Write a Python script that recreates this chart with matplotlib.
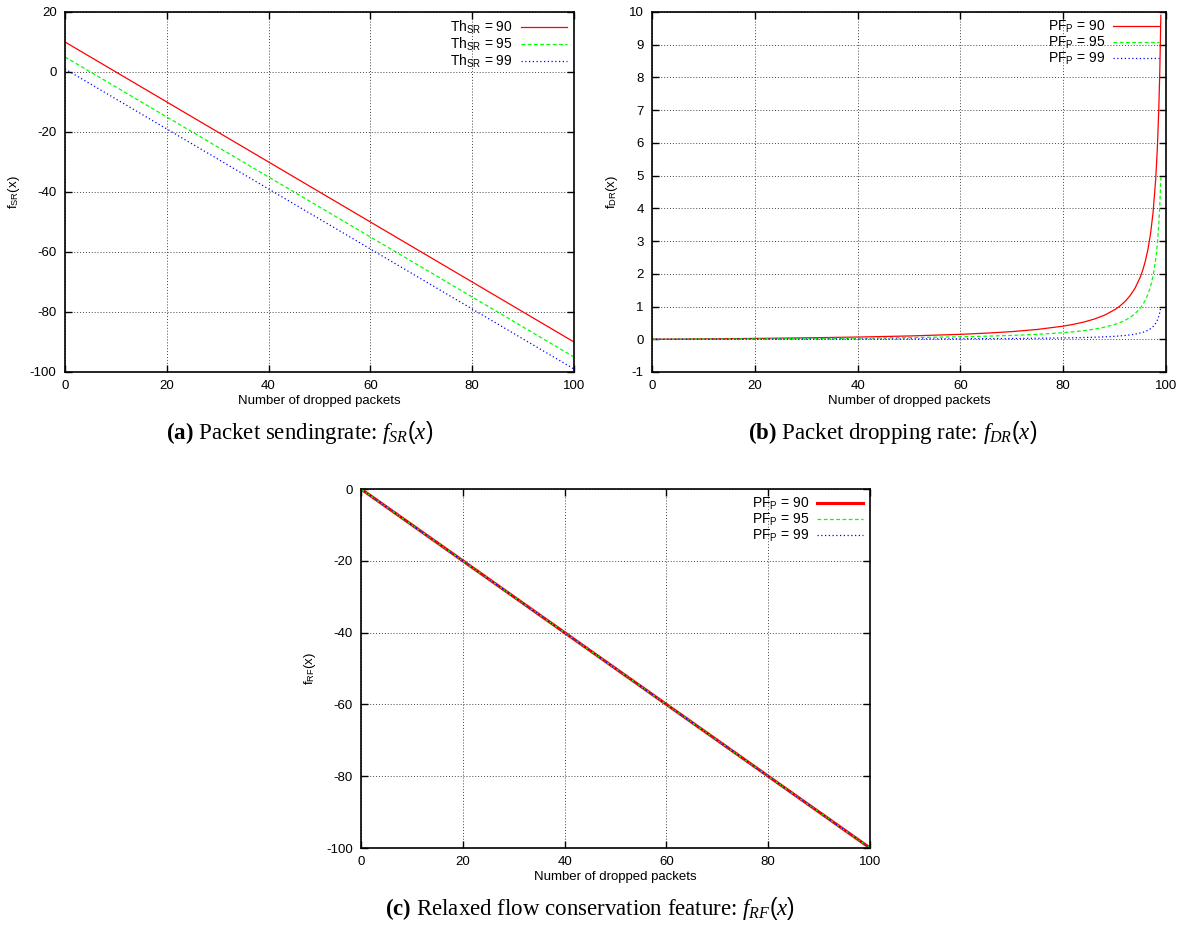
"""
Three gnuplot-style panels: feature functions vs number of dropped packets.
"""

import matplotlib
matplotlib.use("Agg")
import matplotlib.pyplot as plt
from matplotlib.ticker import MultipleLocator

plt.rcParams["font.family"] = ["Liberation Sans", "DejaVu Sans"]
plt.rcParams["axes.unicode_minus"] = False
plt.rcParams["mathtext.fontset"] = "custom"
plt.rcParams["mathtext.rm"] = "Liberation Sans"
plt.rcParams["mathtext.it"] = "Liberation Serif:italic"
plt.rcParams["mathtext.bf"] = "Liberation Serif:bold"

# ---- data ----
thresholds = [90, 95, 99]

# (a) packet sending rate, straight lines
sr_x = [0, 20, 40, 60, 80, 100]
sr_90 = [10, -10, -30, -50, -70, -90]
sr_95 = [5, -15, -35, -55, -75, -95]
sr_99 = [1, -19, -39, -59, -79, -99]

# (b) packet dropping rate
dr_x = [0, 10, 20, 30, 40, 50, 60, 65, 70, 75, 80, 82, 84, 86, 88, 90, 91, 92, 93,
        94, 95, 95.5, 96, 96.5, 97, 97.5, 98, 98.3, 98.6, 98.8, 99]
dr_90 = [0, 0.011, 0.025, 0.043, 0.067, 0.1, 0.15, 0.186, 0.233, 0.3, 0.4, 0.456,
         0.525, 0.614, 0.733, 0.9, 1.011, 1.15, 1.329, 1.567, 1.9, 2.122, 2.4,
         2.757, 3.233, 3.9, 4.9, 5.782, 7.043, 8.233, 9.9]
dr_95 = [0, 0.0055, 0.0125, 0.021, 0.033, 0.05, 0.075, 0.093, 0.117, 0.15, 0.2,
         0.228, 0.262, 0.307, 0.367, 0.45, 0.506, 0.575, 0.664, 0.783, 0.95, 1.061,
         1.2, 1.379, 1.617, 1.95, 2.45, 2.891, 3.521, 4.117, 4.95]
dr_99 = [0, 0.0011, 0.0025, 0.0043, 0.0067, 0.01, 0.015, 0.0186, 0.0233, 0.03, 0.04,
         0.0456, 0.0525, 0.0614, 0.0733, 0.09, 0.101, 0.115, 0.133, 0.157, 0.19,
         0.212, 0.24, 0.276, 0.323, 0.39, 0.49, 0.578, 0.704, 0.823, 0.99]

# (c) relaxed flow conservation, all three overlap
rf_x = [0, 20, 40, 60, 80, 100]
rf_90 = [0, -20, -40, -60, -80, -100]
rf_95 = [0, -20, -40, -60, -80, -100]
rf_99 = [0, -20, -40, -60, -80, -100]

RED = "#ff0000"
GREEN = "#00ff00"
BLUE = "#0000ff"
STYLES = [
    dict(color=RED, ls="-"),
    dict(color=GREEN, ls=(0, (3, 2))),
    dict(color=BLUE, ls=(0, (1, 2))),
]


def style_axes(ax, ylim, ystep, ylabel):
    ax.set_xlim(0, 100)
    ax.set_ylim(*ylim)
    ax.xaxis.set_major_locator(MultipleLocator(20))
    ax.yaxis.set_major_locator(MultipleLocator(ystep))
    ax.tick_params(direction="in", top=True, right=True, length=5, width=1,
                   labelsize=9.5, pad=6)
    ax.grid(True, color="#444444", ls=(0, (1, 2)), lw=0.7)
    for sp in ax.spines.values():
        sp.set_linewidth(1.2)
    ax.set_xlabel("Number of dropped packets", fontsize=9.5, labelpad=2)
    ax.set_ylabel(ylabel, fontsize=9.5, labelpad=6)


def add_legend(ax):
    leg = ax.legend(loc="upper right", frameon=False, markerfirst=False,
                    fontsize=10, handlelength=3.3, labelspacing=0.0,
                    handletextpad=0.6, borderaxespad=0.1)
    for t in leg.get_texts():
        t.set_ha("right")


fig = plt.figure(figsize=(11.81, 9.26), dpi=100)

# panel (a)
ax_a = fig.add_axes([0.0550, 0.5983, 0.431, 0.3888])
for th, ys, st in zip(thresholds, [sr_90, sr_95, sr_99], STYLES):
    ax_a.plot(sr_x, ys, lw=0.9, label=r"Th$_{\mathrm{SR}}$ = %d" % th, **st)
style_axes(ax_a, (-100, 20), 20, r"f$_{\mathrm{SR}}$(x)")
add_legend(ax_a)

# panel (b)
ax_b = fig.add_axes([0.5521, 0.5983, 0.4352, 0.3888])
for th, ys, st in zip(thresholds, [dr_90, dr_95, dr_99], STYLES):
    ax_b.plot(dr_x, ys, lw=0.9, label=r"PF$_{\mathrm{P}}$ = %d" % th, **st)
style_axes(ax_b, (-1, 10), 1, r"f$_{\mathrm{DR}}$(x)")
add_legend(ax_b)

# panel (c)
ax_c = fig.add_axes([0.3057, 0.0842, 0.431, 0.3877])
widths = [2.2, 0.9, 0.9]
for th, ys, st, lw in zip(thresholds, [rf_90, rf_95, rf_99], STYLES, widths):
    ax_c.plot(rf_x, ys, lw=lw, label=r"PF$_{\mathrm{P}}$ = %d" % th, **st)
style_axes(ax_c, (-100, 0), 20, r"f$_{\mathrm{RF}}$(x)")
add_legend(ax_c)

# captions
cap_kw = dict(ha="center", va="center", fontsize=16.5, family="Liberation Serif")
fig.text(300 / 1181, 1 - 433 / 926,
         r"$\mathbf{(a)}$ Packet sendingrate: $f_{SR}(x)$", **cap_kw)
fig.text(893 / 1181, 1 - 433 / 926,
         r"$\mathbf{(b)}$ Packet dropping rate: $f_{DR}(x)$", **cap_kw)
fig.text(590 / 1181, 1 - 908 / 926,
         r"$\mathbf{(c)}$ Relaxed flow conservation feature: $f_{RF}(x)$", **cap_kw)

fig.savefig("out.png", dpi=100)
